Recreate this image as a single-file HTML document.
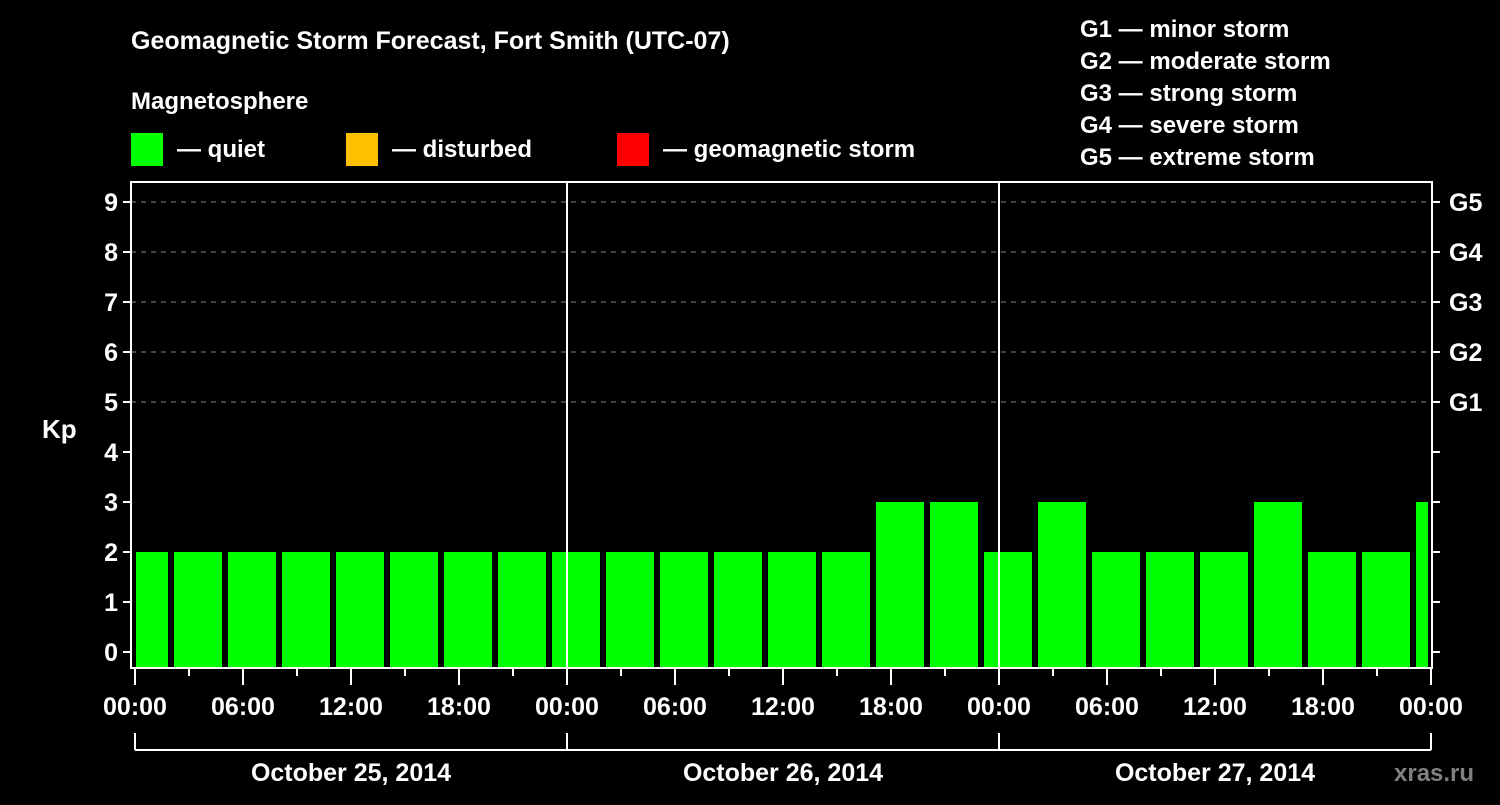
<!DOCTYPE html>
<html><head><meta charset="utf-8"><style>
body{margin:0;background:#000;width:1500px;height:800px;overflow:hidden}
svg text{font-family:"Liberation Sans",Arial,sans-serif;font-weight:bold;fill:#fff}
</style></head><body>
<svg id="c" width="1500" height="800" xmlns="http://www.w3.org/2000/svg">
<text x="131" y="49" font-size="25">Geomagnetic Storm Forecast, Fort Smith (UTC-07)</text>
<text x="131" y="109" font-size="24">Magnetosphere</text>
<rect x="131" y="133" width="32" height="33" fill="#00ff00"/>
<text x="177" y="157" font-size="24">— quiet</text>
<rect x="346" y="133" width="32" height="33" fill="#ffc000"/>
<text x="392" y="157" font-size="24">— disturbed</text>
<rect x="617" y="133" width="32" height="33" fill="#ff0000"/>
<text x="663" y="157" font-size="24">— geomagnetic storm</text>
<g font-size="24">
<text x="1080" y="37">G1 — minor storm</text>
<text x="1080" y="69">G2 — moderate storm</text>
<text x="1080" y="101">G3 — strong storm</text>
<text x="1080" y="133">G4 — severe storm</text>
<text x="1080" y="165">G5 — extreme storm</text>
</g>
<text x="42" y="438" font-size="26">Kp</text>
<text x="1394" y="781" font-size="24" style="fill:#808080">xras.ru</text>
<g id="plot"></g>
</svg>
<script>
const kpValues=[2,2,2,2,2,2,2,2,2,2,2,2,2,2,3,3,2,3,2,2,2,3,2,2,3];
const startHour=-1;
const tickLabels=["00:00","06:00","12:00","18:00"];
const dayLabels=["October 25, 2014","October 26, 2014","October 27, 2014"];
const gLabels=["G1","G2","G3","G4","G5"];
const NS="http://www.w3.org/2000/svg";
const L=131,R=1432,T=182,B=668;
const x=h=>135+h*18;
const y=v=>652-v*50;
const g=document.getElementById('plot');
function mk(tag,a){const e=document.createElementNS(NS,tag);for(const k in a)e.setAttribute(k,a[k]);g.appendChild(e);return e;}
// grid
for(let v=5;v<=9;v++){const e=mk('line',{x1:L,x2:R,y1:y(v),y2:y(v),stroke:'#888','stroke-dasharray':'5,5','stroke-width':1});

}
// bars
kpValues.forEach((v,i)=>{const h0=startHour+i*3;let x0=x(h0)+3,x1=x(h0+3)-3;x0=Math.max(x0,L+5);x1=Math.min(x1,R-4);
const col=v>=5?'#ff0000':(v>=4?'#ffc000':'#00ff00');
const r=mk('rect',{x:x0,y:y(v),width:x1-x0,height:B-y(v),fill:col});

});
// day separators
for(let d=1;d<3;d++){const e=mk('line',{x1:x(d*24),x2:x(d*24),y1:T,y2:B,stroke:'#fff','stroke-width':2});

}
// frame
const f=mk('rect',{x:L,y:T,width:R-L,height:B-T,fill:'none',stroke:'#fff','stroke-width':2});


// y ticks
for(let v=0;v<=9;v++){mk('line',{x1:L-8,x2:L,y1:y(v),y2:y(v),stroke:'#fff','stroke-width':2});
mk('line',{x1:R,x2:R+8,y1:y(v),y2:y(v),stroke:'#fff','stroke-width':2});
const t=mk('text',{x:L-13,y:y(v)+9,'font-size':25,'text-anchor':'end'});t.textContent=v;


if(v>=5){const gl=mk('text',{x:R+17,y:y(v)+9,'font-size':25});gl.textContent=gLabels[v-5];

}}
// x ticks
for(let h=0;h<=72;h+=3){const major=h%6===0;mk('line',{x1:x(h),x2:x(h),y1:B,y2:B+(major?17:8),stroke:'#fff','stroke-width':2});
if(h%6===0){const t=mk('text',{x:x(h),y:715,'font-size':25,'text-anchor':'middle'});t.textContent=tickLabels[(h/6)%4];

}}
// day brackets
mk('line',{x1:x(0),x2:x(72),y1:750,y2:750,stroke:'#fff','stroke-width':2});
for(let d=0;d<=3;d++)mk('line',{x1:x(d*24),x2:x(d*24),y1:733,y2:750,stroke:'#fff','stroke-width':2});
dayLabels.forEach((s,d)=>{const t=mk('text',{x:x(d*24+12),y:781,'font-size':25,'text-anchor':'middle'});t.textContent=s;

});
</script>
</body></html>
